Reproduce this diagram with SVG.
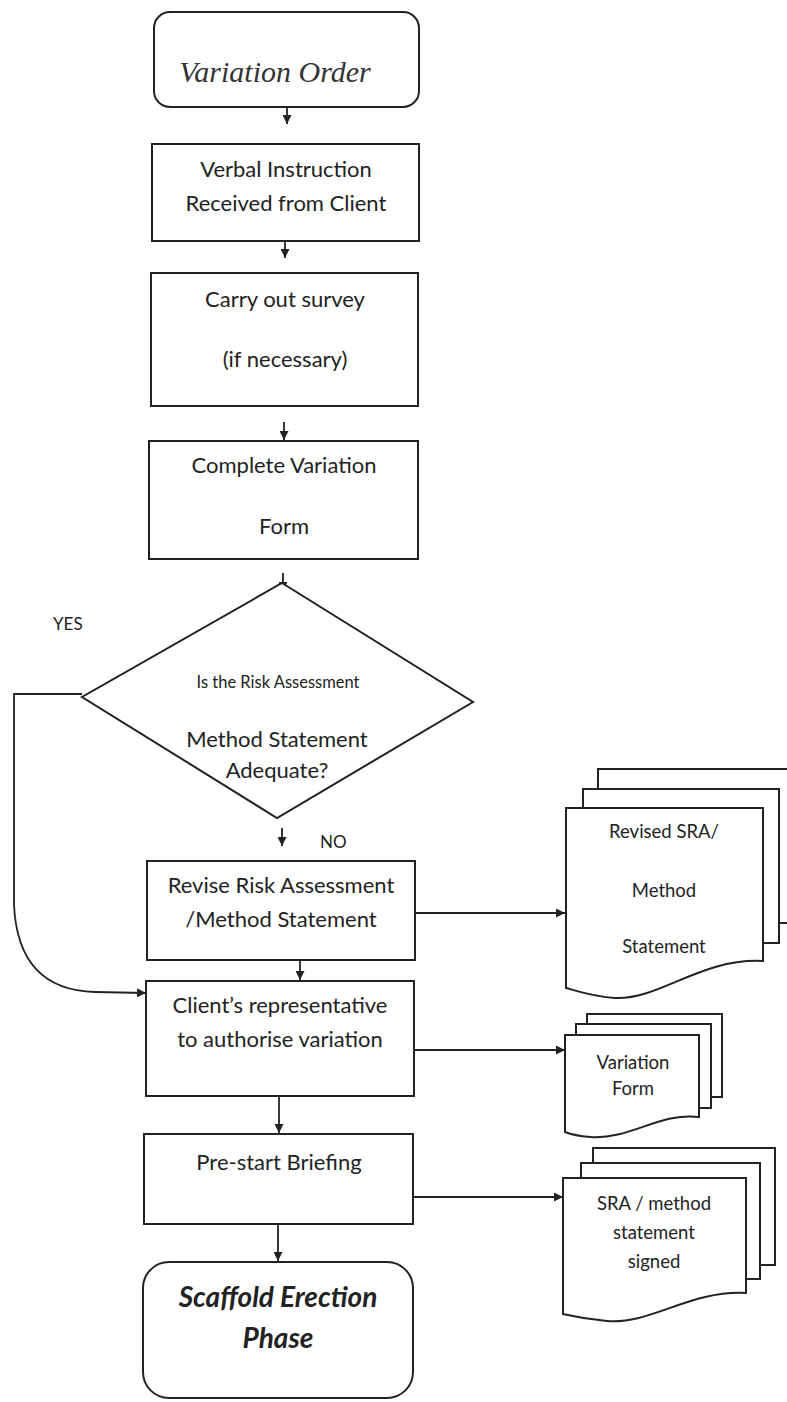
<svg xmlns="http://www.w3.org/2000/svg" width="787" height="1402" viewBox="0 0 787 1402">
  <style>
    .box { fill: #ffffff; stroke: #222222; stroke-width: 2; }
    .page { fill: #ffffff; stroke: #222222; stroke-width: 2; }
    .line { fill: none; stroke: #222222; stroke-width: 1.8; }
    .txt { font-family: Lato, "Liberation Sans", sans-serif; font-size: 22px; fill: #222222; text-anchor: middle; }
    .doc { font-family: Lato, "Liberation Sans", sans-serif; font-size: 18.5px; fill: #222222; text-anchor: middle; }
    .lbl { font-family: Lato, "Liberation Sans", sans-serif; font-size: 17px; fill: #222222; }
    .bold { font-family: Lato, "Liberation Sans", sans-serif; font-style: italic; font-weight: bold; font-size: 28px; fill: #222222; text-anchor: middle; }
  </style>
  <defs>
    <marker id="arrowS" viewBox="0 0 10 10" refX="10" refY="5" markerWidth="9" markerHeight="9" markerUnits="userSpaceOnUse" orient="auto">
      <path d="M0,0 L10,5 L0,10 Z" fill="#222222"/>
    </marker>
  </defs>
  <rect width="787" height="1402" fill="#ffffff"/>

  <!-- connectors -->
  <g id="connectors">
    <path class="line" d="M287,107 V124" marker-end="url(#arrowS)"/>
    <path class="line" d="M285,241 V258" marker-end="url(#arrowS)"/>
    <path class="line" d="M284,422 V440" marker-end="url(#arrowS)"/>
    <path class="line" d="M283,573 V591" marker-end="url(#arrowS)"/>
    <path class="line" d="M282,828 V846" marker-end="url(#arrowS)"/>
    <path class="line" d="M300,960 V980" marker-end="url(#arrowS)"/>
    <path class="line" d="M279,1096 V1133" marker-end="url(#arrowS)"/>
    <path class="line" d="M278,1224 V1261" marker-end="url(#arrowS)"/>
    <!-- YES branch -->
    <path class="line" d="M82,694 H14 V905 Q18,990 95,992 L146,993" marker-end="url(#arrowS)"/>
    <!-- outputs to documents -->
    <path class="line" d="M415,913 H565" marker-end="url(#arrowS)"/>
    <path class="line" d="M414,1050 H565" marker-end="url(#arrowS)"/>
    <path class="line" d="M413,1197 H563" marker-end="url(#arrowS)"/>
  </g>

  <g id="variation-order">
    <rect class="box" x="154" y="12" width="265" height="95" rx="16" ry="16"/>
    <text x="275" y="82" font-family="'Liberation Serif', serif" font-style="italic" font-size="30" fill="#333333" text-anchor="middle">Variation Order</text>
  </g>

  <g id="verbal-instruction">
    <rect class="box" x="152" y="144" width="267" height="97"/>
    <text class="txt" x="286" y="177">Verbal Instruction</text>
    <text class="txt" x="286" y="211">Received from Client</text>
  </g>

  <g id="carry-out-survey">
    <rect class="box" x="151" y="273" width="267" height="133"/>
    <text class="txt" x="285" y="307">Carry out survey</text>
    <text class="txt" x="285" y="367">(if necessary)</text>
  </g>

  <g id="complete-variation-form">
    <rect class="box" x="149" y="441" width="269" height="118"/>
    <text class="txt" x="284" y="473">Complete Variation</text>
    <text class="txt" x="284" y="534">Form</text>
  </g>

  <g id="decision">
    <polygon class="box" points="282,583 473,702 277,818 82,697"/>
    <text x="278" y="688" font-family="Lato, 'Liberation Sans', sans-serif" font-size="16.5" fill="#222222" text-anchor="middle">Is the Risk Assessment</text>
    <text class="txt" x="277" y="747">Method Statement</text>
    <text class="txt" x="277" y="778">Adequate?</text>
  </g>
  <text class="lbl" x="53" y="630">YES</text>
  <text class="lbl" x="320" y="848">NO</text>

  <g id="revise-risk-assessment">
    <rect class="box" x="147" y="861" width="268" height="99"/>
    <text class="txt" x="281" y="893">Revise Risk Assessment</text>
    <text class="txt" x="281" y="927">/Method Statement</text>
  </g>

  <g id="client-authorise">
    <rect class="box" x="146" y="981" width="268" height="115"/>
    <text class="txt" x="280" y="1013">Client’s representative</text>
    <text class="txt" x="280" y="1047">to authorise variation</text>
  </g>

  <g id="pre-start-briefing">
    <rect class="box" x="144" y="1134" width="269" height="90"/>
    <text class="txt" x="279" y="1170">Pre-start Briefing</text>
  </g>

  <g id="scaffold-erection">
    <rect class="box" x="143" y="1262" width="270" height="136" rx="26" ry="26"/>
    <text class="bold" x="278" y="1307">Scaffold Erection</text>
    <text class="bold" x="278" y="1348">Phase</text>
  </g>

  <g id="doc-revised-sra">
    <rect class="page" x="598" y="769" width="200" height="154"/>
    <rect class="page" x="583" y="789" width="196" height="154"/>
    <path class="page" d="M566,808 H763 V961 C700,958 660,1000 615,998 C595,997 580,992 566,988 Z"/>
    <text class="doc" x="664" y="838">Revised SRA/</text>
    <text class="doc" x="664" y="897">Method</text>
    <text class="doc" x="664" y="953">Statement</text>
  </g>

  <g id="doc-variation-form">
    <rect class="page" x="587" y="1014" width="135" height="83"/>
    <rect class="page" x="576" y="1024" width="135" height="84"/>
    <path class="page" d="M565,1035 H699 V1117 C660,1112 630,1140 590,1137 C578,1136 570,1134 565,1132 Z"/>
    <text class="doc" x="633" y="1069">Variation</text>
    <text class="doc" x="633" y="1095">Form</text>
  </g>

  <g id="doc-sra-signed">
    <rect class="page" x="593" y="1148" width="182" height="117"/>
    <rect class="page" x="581" y="1163" width="179" height="116"/>
    <path class="page" d="M563,1178 H746 V1293 C690,1290 650,1325 607,1321 C585,1319 572,1316 563,1314 Z"/>
    <text class="doc" x="654" y="1210">SRA / method</text>
    <text class="doc" x="654" y="1239">statement</text>
    <text class="doc" x="654" y="1268">signed</text>
  </g>
</svg>
